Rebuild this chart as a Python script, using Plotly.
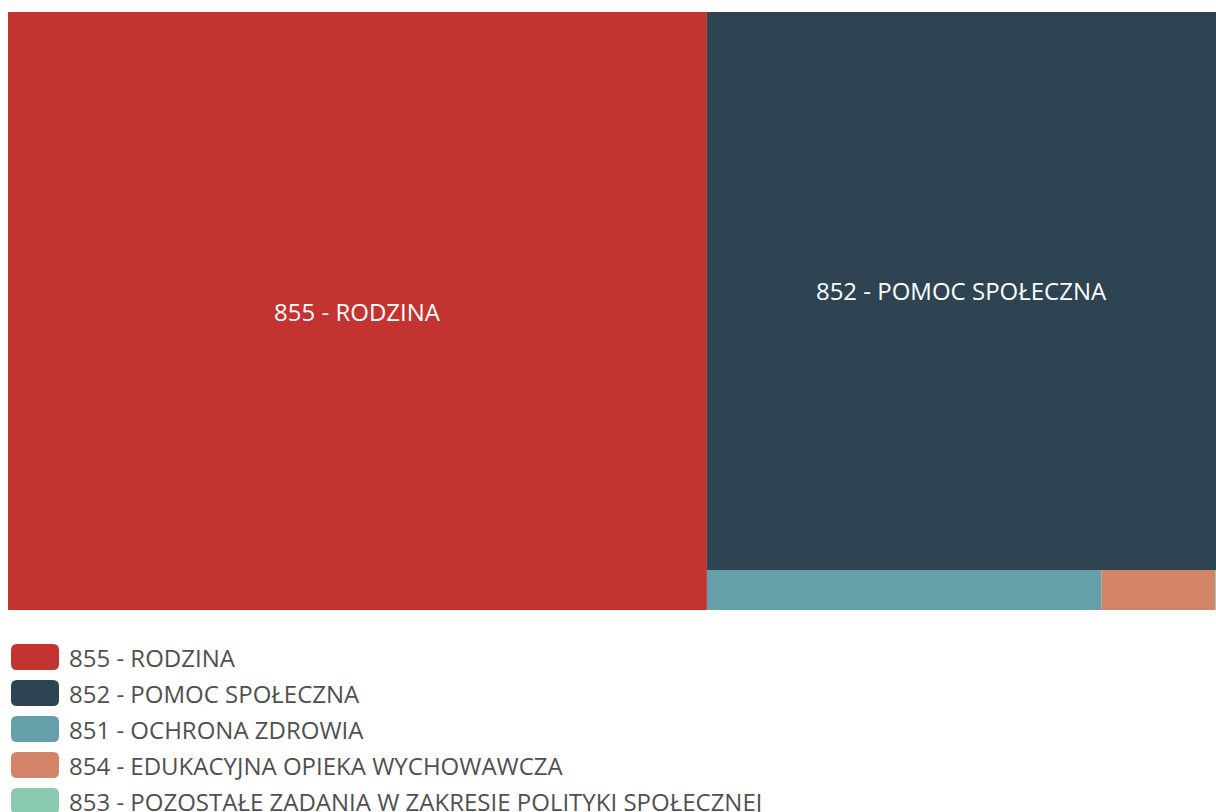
import plotly.graph_objects as go

categories = [
    "855 - RODZINA",
    "852 - POMOC SPOŁECZNA",
    "851 - OCHRONA ZDROWIA",
    "854 - EDUKACYJNA OPIEKA WYCHOWAWCZA",
    "853 - POZOSTAŁE ZADANIA W ZAKRESIE POLITYKI SPOŁECZNEJ",
]
values = [578.6, 393.2, 21.9, 6.3, 0.05]
colors = ["#C3332F", "#2E4452", "#659FAA", "#D38366", "#8ACBB0"]
tile_text = ["855 - RODZINA", "852 - POMOC SPOŁECZNA", "", "", ""]

W, H = 1216, 812
M_L, M_R, M_T, M_B = 8, 0, 12, 202
FONT = "Open Sans"

fig = go.Figure(
    go.Treemap(
        labels=categories,
        parents=[""] * len(categories),
        values=values,
        text=tile_text,
        textinfo="text",
        textposition="middle center",
        textfont=dict(family=FONT, size=24, color="white"),
        marker=dict(colors=colors, line=dict(width=0),
                    pad=dict(t=0, l=0, r=0, b=0)),
        sort=True,
        tiling=dict(packing="squarify", pad=0),
        pathbar=dict(visible=False),
        root=dict(color="white"),
        hoverinfo="label+value",
    )
)

# ── Legend below the treemap (rounded swatches + labels) ──
plot_w = W - M_L - M_R
plot_h = H - M_T - M_B


def px_x(px):
    return (px - M_L) / plot_w


def px_y(py):
    return (H - M_B - py) / plot_h


def rounded_rect(x0, y0, x1, y1, r):
    # figure pixels -> paper-coord SVG path with rounded corners
    rx, ry = r / plot_w, r / plot_h
    a, b = px_x(x0), px_x(x1)
    top, bot = px_y(y0), px_y(y1)
    return (
        f"M {a + rx},{top} L {b - rx},{top} Q {b},{top} {b},{top - ry} "
        f"L {b},{bot + ry} Q {b},{bot} {b - rx},{bot} "
        f"L {a + rx},{bot} Q {a},{bot} {a},{bot + ry} "
        f"L {a},{top - ry} Q {a},{top} {a + rx},{top} Z"
    )


row0, row_step = 657, 36.0
for i, (name, col) in enumerate(zip(categories, colors)):
    cy = row0 + i * row_step
    fig.add_shape(
        type="path",
        xref="paper", yref="paper",
        path=rounded_rect(11, cy - 13, 59, cy + 13, 6),
        fillcolor=col,
        line=dict(width=0),
    )
    fig.add_annotation(
        x=px_x(67), y=px_y(cy),
        xref="paper", yref="paper",
        xanchor="left", yanchor="middle",
        text=name, showarrow=False,
        font=dict(family=FONT, size=24, color="#505050"),
    )

fig.update_layout(
    width=W, height=H,
    margin=dict(l=M_L, r=M_R, t=M_T, b=M_B),
    paper_bgcolor="white",
    plot_bgcolor="white",
    showlegend=False,
)

# drop the default page margin so the figure fills the window exactly
fig.write_html(
    "out.html",
    config={"displayModeBar": False},
    post_script="document.body.style.margin='0';document.body.style.overflow='hidden';",
)
